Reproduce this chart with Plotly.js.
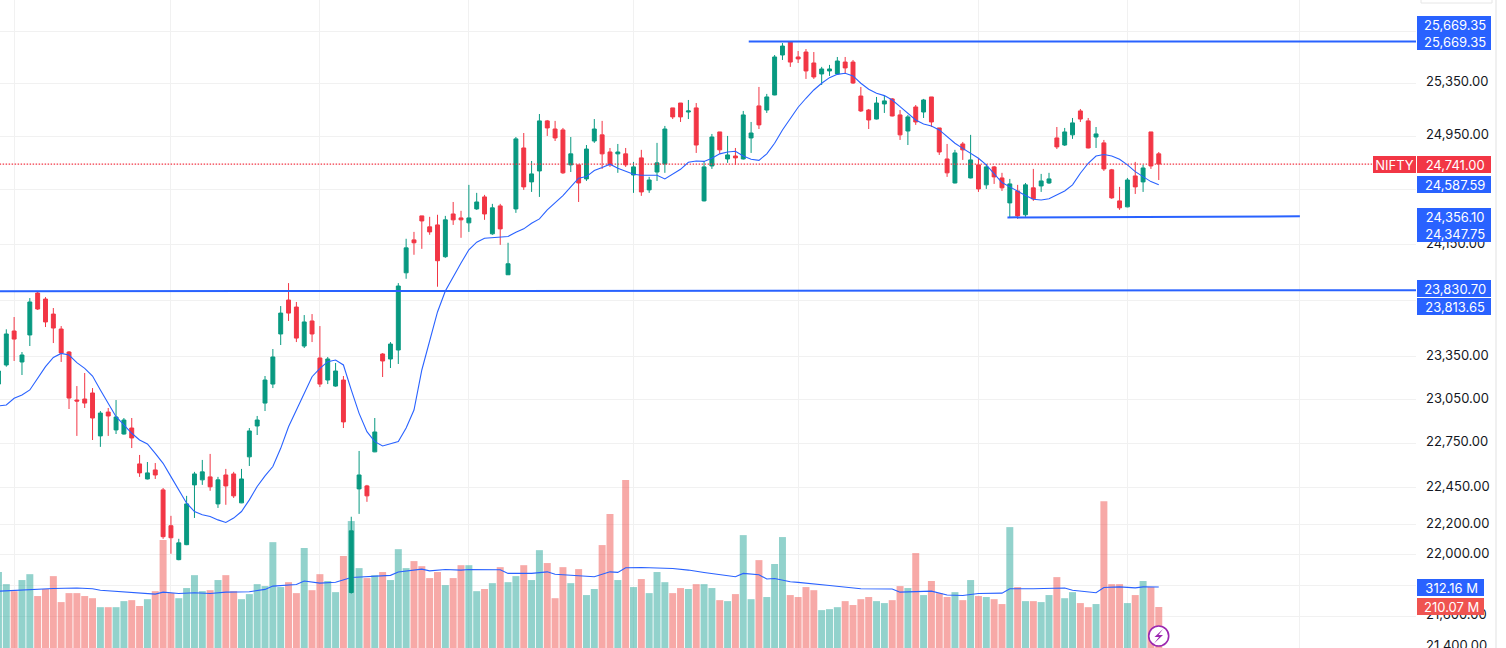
<!DOCTYPE html>
<html><head><meta charset="utf-8">
<script src="https://cdn.plot.ly/plotly-3.0.1.min.js"></script>
<style>html,body{margin:0;padding:0;background:#fff;overflow:hidden}#c{width:1506px;height:648px}</style>
</head><body><div id="c"></div>
<script>
const open = [
23159,23292,23531,23313,23503,23801,23758,23651,23545,23383,
23048,23055,23097,22801,22965,22842,22814,22855,22610,22508,
22569,22434,22194,21969,22068,22468,22502,22522,22340,22535,
22542,22347,22658,22869,23027,23159,23510,23751,23701,23425,
23602,23341,23187,23145,23187,21753,22441,22461,22692,23369,
23334,23397,23946,24184,24359,24279,24293,24062,24373,24344,
24308,24410,24498,24228,24432,23932,24410,24861,24609,24690,
25064,25003,24996,24735,24735,24631,24913,24959,24831,24817,
24817,24660,24787,24550,24682,24742,25162,25199,25131,25162,
24469,24727,24981,24779,24801,24779,24936,25177,25146,25260,
25565,25665,25550,25588,25504,25420,25443,25420,25511,25511,
25252,25146,25078,25192,25230,25109,24988,25169,25131,25245,
25011,24779,24601,24891,24638,24735,24587,24720,24638,24454,
24542,24367,24565,24579,24601,24936,24883,24959,25139,25064,
24943,24899,24698,24469,24425,24653,24609,24981,24817];
const high = [
23270,23543,23630,23383,23765,23808,23772,23694,23566,23390,
23145,23236,23131,22972,22993,23048,22924,22924,22671,22623,
22616,22447,22260,22107,22394,22556,22637,22678,22522,22576,
22556,22576,22855,22938,23215,23404,23708,23872,23737,23644,
23651,23566,23348,23306,23215,22254,22698,22468,22924,23375,
23453,23872,24192,24242,24359,24352,24367,24359,24461,24396,
24587,24528,24513,24447,24447,24163,24943,24973,24764,25116,
25071,25064,25011,24943,24735,24883,25078,25064,24861,24891,
24861,24757,24847,24646,24899,25026,25162,25199,25222,25199,
24764,24966,24981,24951,24861,25139,25056,25321,25268,25565,
25657,25669.35,25596,25611,25588,25474,25489,25550,25550,25527,
25321,25154,25245,25252,25237,25146,25109,25184,25230,25245,
25011,24891,24847,24906,24959,24787,24742,24727,24676,24631,
24587,24601,24705,24668,24676,25018,25011,25086,25154,25086,
25018,24921,24705,24572,24638,24757,24735,24981,24831];
const low = [
23150,23280,23320,23222,23425,23680,23559,23446,23313,22986,
22801,22993,22773,22726,22801,22814,22810,22718,22522,22505,
22508,22107,22008,21965,22065,22246,22468,22428,22313,22334,
22380,22345,22596,22807,22972,23131,23432,23602,23453,23411,
23453,23138,23159,23140,22855,21746,22273,22354,22690,23208,
23271,23299,23903,24076,24119,24221,23846,24054,24293,24199,
24242,24403,24330,24221,24148,23930,24381,24550,24535,24498,
24951,24913,24668,24682,24461,24616,24899,24705,24720,24676,
24720,24528,24506,24528,24616,24676,25078,25056,25078,24824,
24465,24705,24817,24750,24735,24775,24824,25003,25124,25258,
25527,25474,25504,25382,25382,25336,25405,25412,25420,25344,
25131,25003,25075,25124,25098,24921,24883,25034,25086,25018,
24809,24646,24598,24772,24635,24535,24557,24594,24542,24344,
24337,24352,24469,24535,24594,24853,24876,24929,25056,24858,
24861,24690,24484,24403,24422,24520,24535,24705,24623];
const close = [
23250,23510,23474,23362,23737,23687,23595,23552,23376,23062,
23041,23027,22924,22958,22938,22931,22910,22787,22549,22549,
22535,22121,22114,22080,22340,22542,22556,22455,22502,22461,
22394,22508,22835,22910,23187,23348,23658,23658,23481,23595,
23510,23159,23334,23250,22897,22160,22535,22394,22828,23320,
23439,23851,24126,24163,24322,24242,24033,24330,24330,24330,
24344,24461,24373,24418,24264,24011,24929,24572,24668,25064,
25011,24936,24676,24817,24601,24853,25003,24817,24735,24831,
24735,24720,24535,24623,24750,25003,25094,25094,25139,24883,
24720,24943,24847,24809,24787,25109,24973,25034,25245,25550,
25634,25511,25535,25443,25397,25458,25458,25519,25466,25351,
25139,25071,25199,25215,25101,24959,25094,25056,25222,25056,
24831,24676,24824,24847,24772,24557,24720,24646,24565,24594,
24359,24587,24484,24616,24631,24869,24981,25049,25078,24861,
24966,24705,24491,24418,24623,24572,24712,24727,24741];
const volumeM = [
389,327,291,348,378,266,302,368,235,281,
281,266,255,209,209,209,240,245,215,250,
291,553,281,255,307,373,291,296,348,373,
291,250,276,327,317,542,312,337,281,512,
296,378,343,286,471,650,409,358,373,389,
348,506,409,445,419,358,389,322,358,424,
424,291,302,332,414,337,368,424,348,501,
435,255,414,332,404,271,302,527,686,348,
860,312,353,281,389,337,281,307,302,327,
327,307,245,240,276,578,250,450,261,430,
568,271,261,312,296,194,199,209,240,220,
250,261,240,230,245,317,307,486,271,343,
281,261,286,245,348,266,261,250,225,619,
312,240,240,235,271,363,255,286,230,209,
225,752,327,327,230,271,343,312,210.07];
const priceMA = [
23007,23014,23060,23083,23118,23199,23280,23345,23373,23362,
23308,23268,23215,23118,23025,22933,22876,22819,22773,22746,
22682,22614,22524,22434,22345,22289,22267,22256,22233,22216,
22245,22289,22367,22457,22529,22592,22716,22864,22979,23094,
23210,23268,23315,23327,23292,23118,22956,22830,22762,22732,
22746,22762,22855,22979,23257,23466,23666,23815,23920,24016,
24112,24167,24196,24201,24204,24209,24240,24264,24305,24337,
24403,24459,24508,24572,24636,24648,24693,24715,24740,24710,
24685,24665,24658,24658,24658,24631,24668,24702,24754,24764,
24761,24784,24817,24831,24836,24801,24777,24769,24817,24896,
24996,25084,25167,25235,25298,25349,25392,25417,25425,25405,
25349,25303,25273,25255,25222,25172,25121,25071,25041,25026,
24996,24946,24896,24858,24822,24784,24735,24673,24604,24572,
24537,24508,24481,24476,24484,24513,24542,24587,24673,24747,
24801,24812,24801,24777,24735,24685,24648,24611,24587.59];
const volMaIdx = [0,4,7,10,12,13,16,20,21,23,25,27,29,32,34,35,38,39,41,43,45,48,50,51,54,55,57,59,60,64,65,68,70,71,74,76,78,79,80,82,86,88,90,91,94,95,97,98,99,101,102,106,110,114,115,119,121,123,125,128,129,132,136,137,140,141,143,145,146,148];
const volMaVal = [291,300,305,307,303,296,288,276,286,279,283,279,286,288,300,317,325,343,332,337,361,368,372,389,404,395,402,399,402,401,382,382,390,378,372,365,390,387,411,412,407,399,387,382,365,382,375,353,356,339,336,320,303,302,286,291,271,269,279,281,303,303,307,296,283,310,313,308,313,312.16];
const priceTicks = [25750,25350,24950,24550,24150,23750,23350,23050,22750,22450,22200,22000,21800,21600,21400];
const coveredTicks = [25750,24550,23750,21800];
const timeGrid = [2,22,41,60,81,102,125,144,166];
const lineTop = {x:[95.7,181], y:[25669.35,25669.35]};
const lineLow = {x:[128.7,166], y:[24347.75,24356.10]};
const lineMid = {x:[-1,181], y:[23813.65,23821]};
const lastPrice = 24741, maLast = 24587.59, volLast = 210.07, volMaLast = 312.16;

const idx = open.map((_,i)=>i);
const UP='#089981', DN='#f23645', BLUE='#2962ff';
const W=1506,H=648,R=1416;
const px=v=>v/R, py=v=>1-v/H;

const traces=[
 {type:'bar',x:idx,y:volumeM,xaxis:'x',yaxis:'y',hoverinfo:'skip',
  marker:{color:idx.map(i=>close[i]>=open[i]?'rgba(38,166,154,0.5)':'rgba(239,83,80,0.5)'),line:{width:0}}},
 {type:'scatter',mode:'lines',x:volMaIdx,y:volMaVal,xaxis:'x',yaxis:'y',line:{color:BLUE,width:1.1},hoverinfo:'skip'},
 {type:'scatter',mode:'lines',x:[-1,175.3],y:[lastPrice,lastPrice],xaxis:'x',yaxis:'y2',line:{color:DN,width:1.3,dash:'1.5px,1.5px'},hoverinfo:'skip'},
 {type:'candlestick',x:idx,open,high,low,close,xaxis:'x',yaxis:'y2',whiskerwidth:0,
  increasing:{line:{color:UP,width:1},fillcolor:UP},decreasing:{line:{color:DN,width:1},fillcolor:DN}},
 {type:'scatter',mode:'lines',x:idx,y:priceMA,xaxis:'x',yaxis:'y2',line:{color:BLUE,width:1.1},hoverinfo:'skip'},
 {type:'scatter',mode:'lines',x:lineTop.x,y:lineTop.y,xaxis:'x',yaxis:'y2',line:{color:BLUE,width:2},hoverinfo:'skip'},
 {type:'scatter',mode:'lines',x:lineLow.x,y:lineLow.y,xaxis:'x',yaxis:'y2',line:{color:BLUE,width:2},hoverinfo:'skip'},
 {type:'scatter',mode:'lines',x:lineMid.x,y:lineMid.y,xaxis:'x',yaxis:'y2',line:{color:BLUE,width:2},hoverinfo:'skip'}
];

function tag(text,val,yref,color,shift,w,x){
 return {xref:'paper',x:px(x===undefined?1417:x),xanchor:'left',yref:yref,y:yref==='y2'?Math.log10(val):val,yanchor:'middle',
  yshift:shift||0,text:text,showarrow:false,bgcolor:color,width:w||74,height:17,borderpad:0,borderwidth:0,align:'center',
  font:{family:'Inter',size:13,color:'#fff'}};
}
const fmt=v=>v.toLocaleString('en-US',{minimumFractionDigits:2,maximumFractionDigits:2});
const pad='\u2009';
const annotations=[
 tag(pad+fmt(25669.35),25669.35,'y2',BLUE,16.7),
 tag(pad+fmt(25669.35),25669.35,'y2',BLUE,0),
 tag('NIFTY',lastPrice,'y2',DN,0,43,1373),
 tag(pad+fmt(lastPrice),lastPrice,'y2',DN,0),
 tag(pad+fmt(maLast),maLast,'y2',BLUE,0),
 tag(pad+fmt(24356.10),24356.10,'y2',BLUE,0),
 tag(pad+fmt(24347.75),24347.75,'y2',BLUE,-16.5),
 tag(pad+fmt(23830.70),23830.70,'y2',BLUE,0),
 tag(pad+fmt(23813.65),23813.65,'y2',BLUE,-15),
 tag(pad+volMaLast.toFixed(2)+' M',volMaLast,'y',BLUE,0,67),
 tag(pad+volLast.toFixed(2)+' M',volLast,'y','#ef5350',0,67)
];
const bolt=[[1163,629],[1154.5,637],[1159,637],[1154,643.5],[1163,635],[1158.5,635]];
const shapes=[
 {type:'rect',xref:'paper',yref:'paper',x0:px(1495),x1:px(1497),y0:0,y1:1,line:{width:0},fillcolor:'#f0f0f0'},
 {type:'rect',xref:'paper',yref:'paper',x0:px(1421),x1:px(1492),y0:py(3),y1:py(-3),line:{width:1,color:'#e6e6e6'},fillcolor:'#fff'},
 {type:'circle',xref:'paper',yref:'paper',x0:px(1148.7),x1:px(1168.7),y0:py(646),y1:py(626),line:{width:1.6,color:'#9c27b0'},fillcolor:'#fff'},
 {type:'path',xref:'paper',yref:'paper',path:'M '+bolt.map(p=>px(p[0])+','+py(p[1])).join(' L ')+' Z',line:{width:0},fillcolor:'#9c27b0'}
];
const layout={
 width:W,height:H,margin:{l:0,r:W-R,t:0,b:0},paper_bgcolor:'#fff',plot_bgcolor:'#fff',showlegend:false,
 boxgap:0.5,boxgroupgap:0,bargap:0.11,font:{family:'Inter',color:'#131722',size:13},hovermode:false,
 xaxis:{type:'linear',range:[0.196,180.81],tickmode:'array',tickvals:timeGrid,showticklabels:false,ticks:'',
  showgrid:true,gridcolor:'#f1f1f1',gridwidth:1,zeroline:false,showline:false,rangeslider:{visible:false}},
 yaxis:{type:'linear',range:[0,3318],showgrid:false,zeroline:false,showticklabels:false,ticks:'',showline:false},
 yaxis2:{type:'log',overlaying:'y',side:'right',anchor:'x',range:[Math.log10(21393.6),Math.log10(25991)],
  tickmode:'array',tickvals:priceTicks,ticktext:priceTicks.map(v=>coveredTicks.includes(v)?'':fmt(v)),ticks:'',ticklabelstandoff:9,ticklabeloverflow:'allow',
  showgrid:true,gridcolor:'#f1f1f1',gridwidth:1,zeroline:false,showline:false,
  tickfont:{family:'Inter',size:13,color:'#131722'}},
 annotations,shapes
};
Plotly.newPlot('c',traces,layout,{displayModeBar:false,staticPlot:true}).then(()=>{
 document.querySelectorAll('.y2tick text').forEach(t=>t.setAttribute('y',(+t.getAttribute('y')||0)-1.5));
});
</script></body></html>
